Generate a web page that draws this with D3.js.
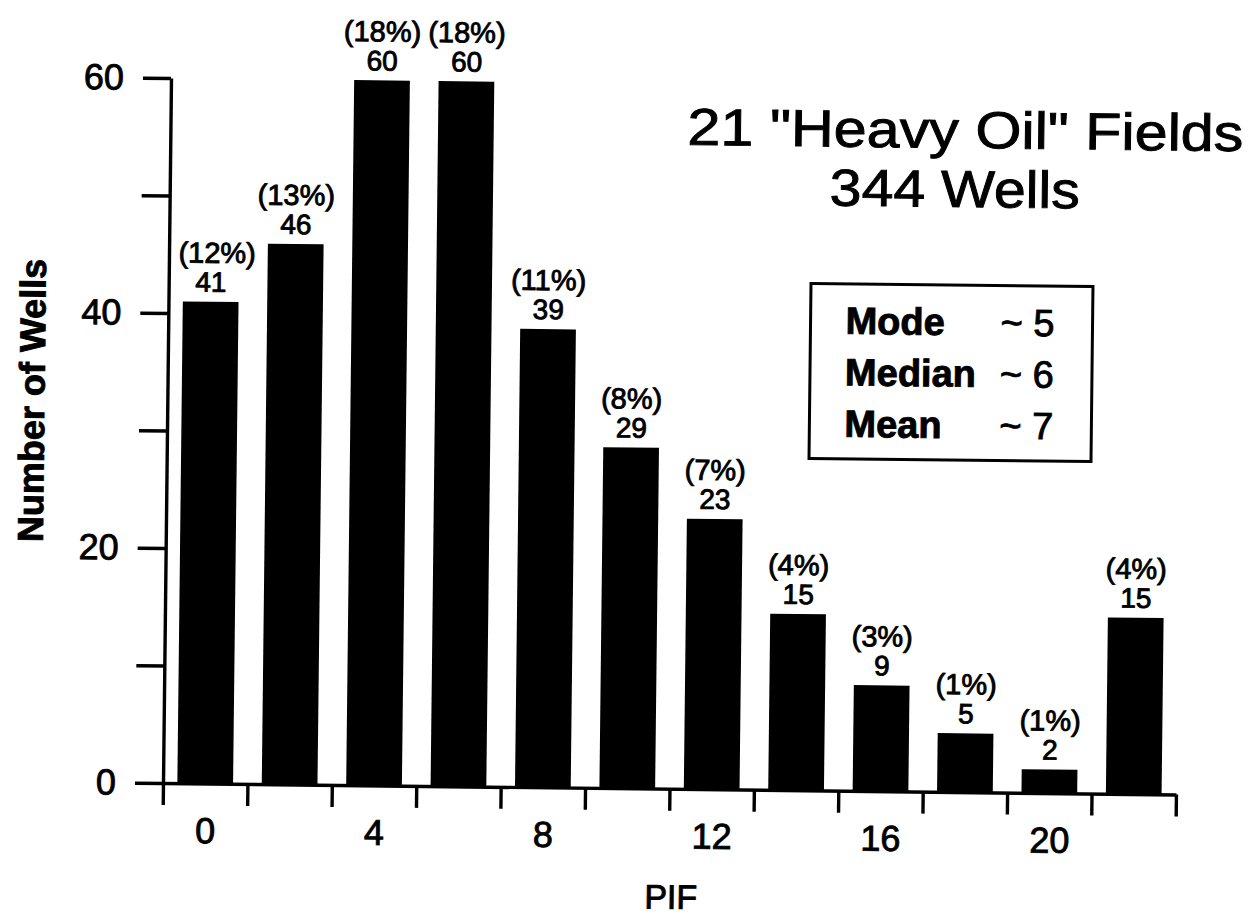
<!DOCTYPE html>
<html>
<head>
<meta charset="utf-8">
<script src="https://cdn.jsdelivr.net/npm/d3@7"></script>
<style>
  html, body { margin: 0; padding: 0; background: #fff; }
  svg { display: block; font-family: 'Liberation Sans', Arial, Helvetica, sans-serif; }
  /* the scan thickens every glyph a little */
  svg text { fill: #000; stroke: #000; stroke-width: 0.9px; }
</style>
</head>
<body>
<div id="graphic"></div>
<script>
// PIF histogram, 21 heavy oil fields.

const pifBins = [0, 2, 4, 6, 8, 10, 12, 14, 16, 18, 20, 22];
const wellCounts = [41, 46, 60, 60, 39, 29, 23, 15, 9, 5, 2, 15];
const wellShares = ['(12%)', '(13%)', '(18%)', '(18%)', '(11%)', '(8%)', '(7%)', '(4%)', '(3%)', '(1%)', '(1%)', '(4%)'];
const binEdges = [-1, 1, 3, 5, 7, 9, 11, 13, 15, 17, 19, 21, 23];
const xTickLabels = [0, 4, 8, 12, 16, 20];
const yTicks = [0, 10, 20, 30, 40, 50, 60];
const yTickLabels = [0, 20, 40, 60];
const titleLines = ['21 "Heavy Oil" Fields', '344 Wells'];
const summaryNames = ['Mode', 'Median', 'Mean'];
const summaryValues = ['~ 5', '~ 6', '~ 7'];

const width = 1253;
const height = 922;
const origin = { x: 163, y: 783 };
const tilt = 0.65; // the scan is turned slightly clockwise

const svg = d3
  .select('#graphic')
  .append('svg')
  .attr('width', width)
  .attr('height', height);

const x = d3.scaleLinear().domain([-1, 23]).range([origin.x, 1176]);
const y = d3.scaleLinear().domain([0, 60]).range([origin.y, 78]);

const chart = svg.append('g').attr('transform', `rotate(${tilt},${origin.x},${origin.y})`);

const barWidth = (x(1) - x(-1)) * 0.66;

chart
  .selectAll('rect.bar')
  .data(pifBins)
  .join('rect')
  .attr('class', 'bar')
  .attr('x', (d) => x(d) - barWidth / 2)
  .attr('y', (d, i) => y(wellCounts[i]))
  .attr('width', barWidth)
  .attr('height', (d, i) => y(0) - y(wellCounts[i]))
  .attr('fill', '#000');

// y axis
chart
  .append('g')
  .attr('transform', `translate(${origin.x},0)`)
  .call(
    d3
      .axisLeft(y)
      .tickValues(yTicks)
      .tickSize(28)
      .tickSizeOuter(0)
      .tickPadding(19)
      .tickFormat((d) => (yTickLabels.includes(d) ? d : ''))
  )
  .call((g) => g.selectAll('line, path').attr('stroke', '#000').attr('stroke-width', 3.4))
  .call((g) => g.selectAll('text').attr('fill', '#000').attr('font-size', 36).attr('font-family', null));

// x axis: ticks at bin edges
chart
  .append('g')
  .attr('transform', `translate(0,${origin.y})`)
  .call(d3.axisBottom(x).tickValues(binEdges).tickSize(22).tickSizeOuter(0).tickFormat(''))
  .call((g) => g.selectAll('line, path').attr('stroke', '#000').attr('stroke-width', 3.4));

// x labels at bin centres
chart
  .append('g')
  .attr('transform', `translate(0,${origin.y})`)
  .call(d3.axisBottom(x).tickValues(xTickLabels).tickSize(0).tickPadding(34))
  .call((g) => g.select('.domain').remove())
  .call((g) => g.selectAll('text').attr('fill', '#000').attr('font-size', 36).attr('font-family', null));

// bar labels
chart
  .selectAll('text.count')
  .data(pifBins)
  .join('text')
  .attr('class', 'count')
  .attr('x', (d) => x(d))
  .attr('y', (d, i) => y(wellCounts[i]) - 10)
  .attr('text-anchor', 'middle')
  .attr('font-size', 28)
  .text((d, i) => wellCounts[i]);

chart
  .selectAll('text.share')
  .data(pifBins)
  .join('text')
  .attr('class', 'share')
  .attr('x', (d, i) => x(d) + (i === 0 ? 6 : 0))
  .attr('y', (d, i) => y(wellCounts[i]) - 39)
  .attr('text-anchor', 'middle')
  .attr('font-size', 29)
  .text((d, i) => wellShares[i]);

// axis titles
chart
  .append('text')
  .attr('transform', 'translate(40,402) rotate(-90)')
  .attr('text-anchor', 'middle')
  .attr('font-size', 36)
  .attr('font-weight', 'bold')
  .text('Number of Wells');

chart
  .append('text')
  .attr('x', 672)
  .attr('y', 903)
  .attr('text-anchor', 'middle')
  .attr('font-size', 34)
  .text('PIF');

// title
const title = svg.append('g').attr('transform', `rotate(${tilt},965,170)`);
title
  .selectAll('text')
  .data(titleLines)
  .join('text')
  .attr('x', (d, i) => (i === 0 ? 965 : 955))
  .attr('y', (d, i) => 148 + i * 59)
  .attr('text-anchor', 'middle')
  .attr('font-size', 52)
  .attr('stroke-width', 1.4)
  .attr('textLength', (d, i) => (i === 0 ? 556 : 250))
  .attr('lengthAdjust', 'spacingAndGlyphs')
  .text((d) => d);

// summary box
const box = svg.append('g').attr('transform', `rotate(${tilt},951,372)`);
box
  .append('rect')
  .attr('x', 810)
  .attr('y', 285)
  .attr('width', 282)
  .attr('height', 175)
  .attr('fill', 'none')
  .attr('stroke', '#000')
  .attr('stroke-width', 3);

box
  .selectAll('text.name')
  .data(summaryNames)
  .join('text')
  .attr('class', 'name')
  .attr('x', 845)
  .attr('y', (d, i) => 335 + i * 51.5)
  .attr('font-size', 38)
  .attr('font-weight', 'bold')
  .attr('stroke-width', 0.4)
  .text((d) => d);

box
  .selectAll('text.value')
  .data(summaryValues)
  .join('text')
  .attr('class', 'value')
  .attr('x', 1000)
  .attr('y', (d, i) => 335 + i * 51.5)
  .attr('font-size', 38)
  .attr('stroke-width', 1.2)
  .text((d) => d);
</script>
</body>
</html>
